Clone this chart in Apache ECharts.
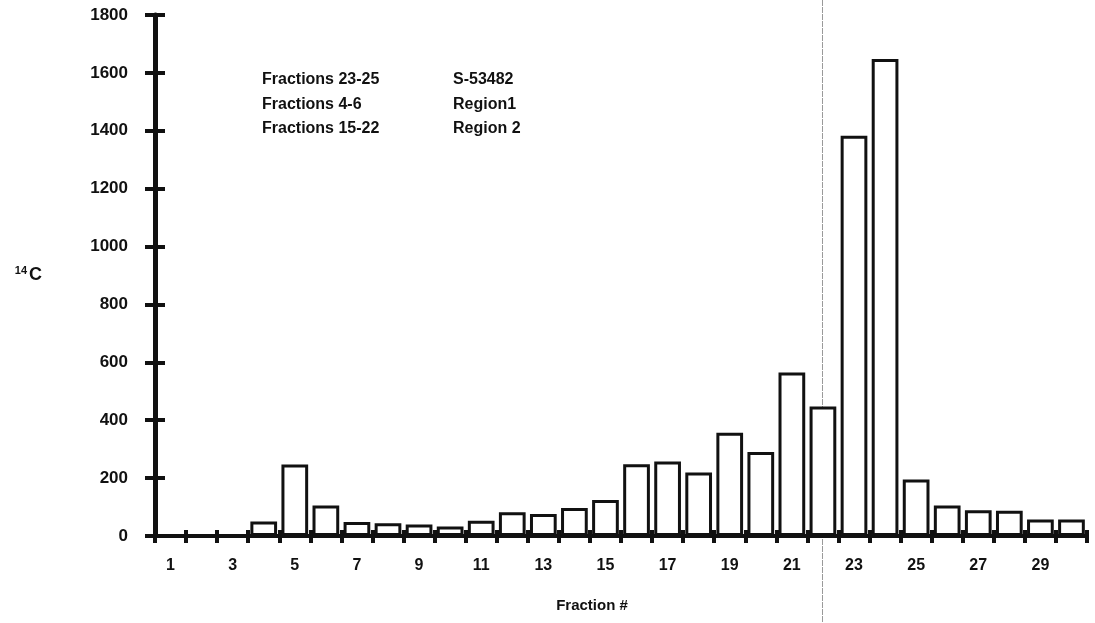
<!DOCTYPE html>
<html>
<head>
<meta charset="utf-8">
<script src="https://cdn.jsdelivr.net/npm/echarts@6/dist/echarts.min.js"></script>
<style>
  html, body { margin: 0; padding: 0; background: #fff; }
  #chart { width: 1095px; height: 623px; }
</style>
</head>
<body>
<div id="chart"></div>
<script>
(function () {

    // fraction numbers on the x axis
    var fractions = ['1', '2', '3', '4', '5', '6', '7', '8', '9', '10',
        '11', '12', '13', '14', '15', '16', '17', '18', '19', '20',
        '21', '22', '23', '24', '25', '26', '27', '28', '29', '30'];

    // 14C counts
    var counts = [0, 0, 0, 50, 247, 105, 48, 44, 40, 33,
        53, 82, 76, 97, 124, 248, 257, 219, 357, 290,
        565, 447, 1383, 1648, 195, 105, 89, 87, 57, 57];

    // legend lines in the upper left
    var noteLabels = ['Fractions 23-25', 'Fractions 4-6', 'Fractions 15-22'];
    var noteValues = ['S-53482', 'Region1', 'Region 2'];

    var FONT = '"Liberation Sans", Arial, Helvetica, sans-serif';
    var INK = '#111';

    var notes = noteLabels.map(function (label, i) {
        return {
            type: 'text',
            left: 262,
            top: 72 + i * 24.5,
            style: {
                text: '{a|' + label + '}{b|' + noteValues[i] + '}',
                fill: INK,
                rich: {
                    a: { width: 191, fontSize: 16, fontFamily: FONT, fontWeight: 'bold', fill: INK },
                    b: { fontSize: 16, fontFamily: FONT, fontWeight: 'bold', fill: INK }
                }
            }
        };
    });

    // thin scanner streak across the page
    notes.push({
        type: 'line',
        shape: { x1: 822.5, y1: 0, x2: 822.5, y2: 623 },
        style: { stroke: '#9a9a9a', lineWidth: 1, lineDash: [6, 1] },
        silent: true
    });

    var option = {
        backgroundColor: '#fff',
        animation: false,
        grid: {
            left: 155,
            right: 8,
            top: 15,
            bottom: 87,
            containLabel: false,
            outerBoundsMode: 'none'
        },
        xAxis: [{
            type: 'category',
            data: fractions,
            boundaryGap: true,
            axisLine: { lineStyle: { color: INK, width: 4 } },
            axisTick: { show: true, interval: 0, length: 7, lineStyle: { color: INK, width: 4 } },
            axisLabel: {
                interval: 1,
                margin: 22,
                color: INK,
                fontSize: 16,
                fontWeight: 'bold',
                fontFamily: FONT
            },
            name: 'Fraction #',
            nameLocation: 'middle',
            nameGap: 62,
            nameTextStyle: {
                color: INK,
                fontSize: 15,
                fontWeight: 'bold',
                fontFamily: FONT,
                padding: [0, 58, 0, 0]
            },
            splitLine: { show: false }
        }, {
            // second axis only draws the upper half of the crossing ticks
            type: 'category',
            data: fractions,
            position: 'bottom',
            boundaryGap: true,
            axisLine: { show: false },
            axisTick: { show: true, inside: true, interval: 0, length: 6, lineStyle: { color: INK, width: 4 } },
            axisLabel: { show: false },
            splitLine: { show: false }
        }],
        yAxis: [{
            type: 'value',
            min: 0,
            max: 1800,
            interval: 200,
            axisLine: { show: true, lineStyle: { color: INK, width: 5 } },
            axisTick: { show: true, length: 10, lineStyle: { color: INK, width: 4 } },
            axisLabel: {
                margin: 27,
                color: INK,
                fontSize: 17,
                fontWeight: 'bold',
                fontFamily: FONT,
                formatter: function (v) { return String(v); }
            },
            splitLine: { show: false },
            name: '{s|14}{c|C}',
            nameLocation: 'middle',
            nameRotate: 0,
            nameGap: 113,
            nameTextStyle: {
                rich: {
                    s: { fontSize: 11, fontWeight: 'bold', fontFamily: FONT, color: INK, padding: [0, 2, 10, 0] },
                    c: { fontSize: 18, fontWeight: 'bold', fontFamily: FONT, color: INK }
                }
            }
        }, {
            type: 'value',
            min: 0,
            max: 1800,
            interval: 200,
            position: 'left',
            axisLine: { show: false },
            axisTick: { show: true, inside: true, length: 10, lineStyle: { color: INK, width: 4 } },
            axisLabel: { show: false },
            splitLine: { show: false }
        }],
        graphic: notes,
        series: [{
            type: 'bar',
            xAxisIndex: 0,
            yAxisIndex: 0,
            data: counts,
            barCategoryGap: '14%',
            itemStyle: {
                color: '#fff',
                borderColor: INK,
                borderWidth: 3
            },
            silent: true
        }]
    };

    var chart = echarts.init(document.getElementById('chart'));
    chart.setOption(option);

})();
</script>
</body>
</html>
